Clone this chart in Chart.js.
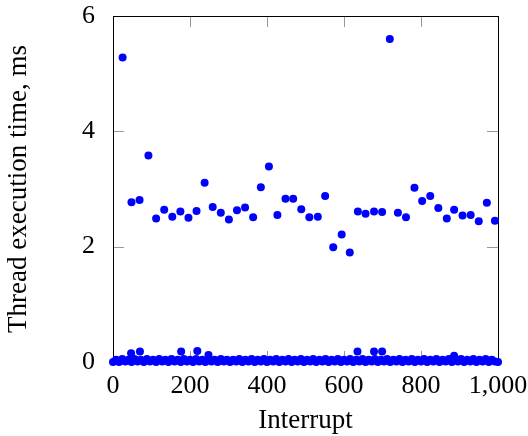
<!DOCTYPE html>
<html>
<head>
<meta charset="utf-8">
<script src="https://cdn.jsdelivr.net/npm/chart.js@4"></script>
<style>
  html, body { margin: 0; padding: 0; background: #fff; }
</style>
</head>
<body>
<canvas id="chart" width="528" height="436"></canvas>
<script>
// Long executions (one every ~21 interrupts)
const highInterrupts = [25, 48, 69, 92, 112, 133, 154, 175, 196, 217, 238, 259, 280, 301, 322, 343, 364, 384, 405, 427,
  448, 468, 489, 510, 532, 551, 572, 594, 615, 636, 656, 678, 699, 719, 740, 761, 783, 803, 824, 845, 867, 886, 908, 929, 950, 971, 992];
const highTimes = [5.28, 2.77, 2.81, 3.58, 2.49, 2.64, 2.52, 2.61, 2.50, 2.62, 3.11, 2.69, 2.59, 2.47, 2.63, 2.68, 2.51, 3.03, 3.39, 2.55,
  2.83, 2.83, 2.65, 2.51, 2.52, 2.88, 1.99, 2.21, 1.90, 2.61, 2.57, 2.61, 2.60, 5.60, 2.59, 2.51, 3.02, 2.79, 2.88, 2.67, 2.49, 2.64, 2.54, 2.55, 2.44, 2.76, 2.45];

// Short executions, the band along zero
const lowInterrupts = [0, 8, 16, 24, 32, 40, 48, 56, 64, 72, 80, 88, 96, 104, 112, 120, 128, 136, 144, 152,
  160, 168, 176, 184, 192, 200, 208, 216, 224, 232, 240, 248, 256, 264, 272, 280, 288, 296, 304, 312,
  320, 328, 336, 344, 352, 360, 368, 376, 384, 392, 400, 408, 416, 424, 432, 440, 448, 456, 464, 472,
  480, 488, 496, 504, 512, 520, 528, 536, 544, 552, 560, 568, 576, 584, 592, 600, 608, 616, 624, 632,
  640, 648, 656, 664, 672, 680, 688, 696, 704, 712, 720, 728, 736, 744, 752, 760, 768, 776, 784, 792,
  800, 808, 816, 824, 832, 840, 848, 856, 864, 872, 880, 888, 896, 904, 912, 920, 928, 936, 944, 952,
  960, 968, 976, 984, 992, 1000];
const lowTimes = [0.00, 0.04, 0.00, 0.05, 0.01, 0.04, 0.00, 0.05, 0.01, 0.04,
  0.00, 0.05, 0.01, 0.04, 0.00, 0.05, 0.01, 0.04, 0.00, 0.05,
  0.01, 0.04, 0.00, 0.05, 0.01, 0.04, 0.00, 0.05, 0.01, 0.04,
  0.00, 0.05, 0.01, 0.04, 0.00, 0.05, 0.01, 0.04, 0.00, 0.04,
  0.01, 0.05, 0.00, 0.04, 0.01, 0.05, 0.00, 0.04, 0.01, 0.05,
  0.00, 0.04, 0.01, 0.05, 0.00, 0.04, 0.01, 0.05, 0.00, 0.04,
  0.01, 0.05, 0.00, 0.04, 0.01, 0.05, 0.00, 0.04, 0.01, 0.05,
  0.00, 0.04, 0.01, 0.05, 0.00, 0.04, 0.01, 0.05, 0.00, 0.04,
  0.01, 0.05, 0.00, 0.04, 0.01, 0.05, 0.00, 0.04, 0.01, 0.05,
  0.00, 0.04, 0.01, 0.05, 0.00, 0.04, 0.01, 0.05, 0.00, 0.04,
  0.01, 0.05, 0.00, 0.04, 0.01, 0.05, 0.00, 0.04, 0.01, 0.05,
  0.00, 0.04, 0.01, 0.05, 0.00, 0.04, 0.01, 0.05, 0.00, 0.04,
  0.01, 0.05, 0.00, 0.04, 0.01, 0.00];

// Slightly raised short executions
const bumpInterrupts = [47, 70, 177, 219, 248, 635, 678, 699, 886];
const bumpTimes = [0.15, 0.18, 0.18, 0.19, 0.12, 0.18, 0.18, 0.18, 0.11];

const xTicks = [0, 200, 400, 600, 800, 1000];
const yTicks = [0, 2, 4, 6];

function toPoints(xs, ys) {
  return xs.map((x, i) => ({ x: x, y: ys[i] }));
}

const family = '"Liberation Serif", "DejaVu Serif", serif';
const tickFont = { family: family, size: 26 };
const titleFont = { family: family, size: 27 };

// pgfplots style frame with inward ticks on all four sides
const frameTicks = {
  id: 'frameTicks',
  beforeDatasetsDraw(chart) {
    const { ctx, chartArea: a, scales } = chart;
    const len = 11;
    ctx.save();
    ctx.strokeStyle = '#999';
    ctx.lineWidth = 1;
    ctx.beginPath();
    xTicks.forEach(v => {
      if (v === 0 || v === 1000) return;
      const px = Math.round(scales.x.getPixelForValue(v)) + 0.5;
      ctx.moveTo(px, a.bottom); ctx.lineTo(px, a.bottom - len);
      ctx.moveTo(px, a.top); ctx.lineTo(px, a.top + len);
    });
    yTicks.forEach(v => {
      if (v === 0 || v === 6) return;
      const py = Math.round(scales.y.getPixelForValue(v)) + 0.5;
      ctx.moveTo(a.left, py); ctx.lineTo(a.left + len, py);
      ctx.moveTo(a.right, py); ctx.lineTo(a.right - len, py);
    });
    ctx.stroke();
    ctx.strokeStyle = '#000';
    ctx.strokeRect(Math.round(a.left) + 0.5, Math.round(a.top) + 0.5,
      Math.round(a.right - a.left), Math.round(a.bottom - a.top));
    ctx.restore();
  }
};

new Chart(document.getElementById('chart'), {
  type: 'scatter',
  data: {
    datasets: [
      { data: toPoints(lowInterrupts, lowTimes) },
      { data: toPoints(bumpInterrupts, bumpTimes) },
      { data: toPoints(highInterrupts, highTimes) }
    ]
  },
  options: {
    responsive: false,
    animation: false,
    layout: { padding: { left: 0, top: 16, right: 30, bottom: 0 } },
    elements: {
      point: { radius: 4, backgroundColor: '#0000ff', borderWidth: 0, pointStyle: 'circle' }
    },
    datasets: { scatter: { clip: false } },
    plugins: { legend: { display: false }, tooltip: { enabled: false } },
    scales: {
      x: {
        type: 'linear', min: 0, max: 1000,
        grid: { display: false },
        border: { display: false },
        afterBuildTicks: s => { s.ticks = xTicks.map(v => ({ value: v })); },
        ticks: { color: '#000', font: tickFont, padding: 1, maxRotation: 0 },
        title: { display: true, text: 'Interrupt', color: '#000', font: titleFont, padding: { top: 0, bottom: -1 } },
        afterFit: s => { s.height = 74; s.paddingLeft = 0; s.paddingRight = 0; }
      },
      y: {
        type: 'linear', min: 0, max: 6,
        grid: { display: false },
        border: { display: false },
        afterBuildTicks: s => { s.ticks = yTicks.map(v => ({ value: v })); },
        ticks: { color: '#000', font: tickFont, padding: 10 },
        title: { display: true, text: 'Thread execution time, ms', color: '#000', font: titleFont, padding: { top: 3, bottom: 0 } },
        afterFit: s => { s.width = 113; s.paddingTop = 0; s.paddingBottom = 0; }
      }
    }
  },
  plugins: [frameTicks]
});
</script>
</body>
</html>
